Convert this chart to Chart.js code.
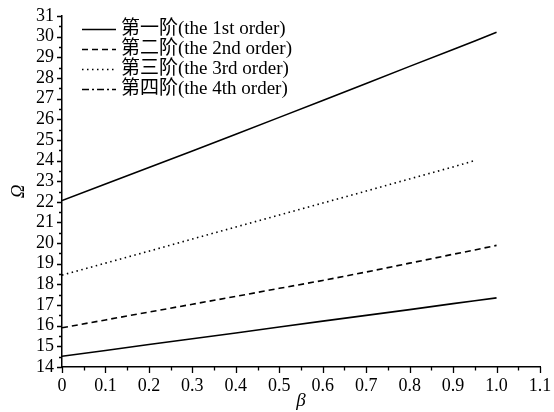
<!DOCTYPE html>
<html>
<head>
<meta charset="utf-8">
<script src="https://cdn.jsdelivr.net/npm/chart.js@4.4.0/dist/chart.umd.min.js"></script>
<style>
  html, body { margin: 0; padding: 0; background: #fff; }
  #wrap { width: 554px; height: 412px; }
</style>
</head>
<body>
<div id="wrap"><canvas id="omega-chart"></canvas></div>
<script>
var canva = document.getElementById('omega-chart');

// data
const betas = [0, 0.1, 0.2, 0.3, 0.4, 0.5, 0.6, 0.7, 0.8, 0.9, 0.95, 1.0];
const order1 = [14.52, 14.80, 15.09, 15.37, 15.65, 15.94, 16.22, 16.50, 16.78, 17.07, 17.21, 17.35];
const order2 = [15.90, 16.28, 16.66, 17.04, 17.42, 17.81, 18.19, 18.60, 19.03, 19.46, 19.67, 19.89];
const order3 = [18.45, 19.03, 19.61, 20.20, 20.78, 21.36, 21.94, 22.52, 23.11, 23.69, 24.00, null];
const order4 = [22.06, 22.86, 23.66, 24.46, 25.27, 26.09, 26.91, 27.73, 28.56, 29.38, 29.79, 30.21];
const labels = ['第一阶(the 1st order)', '第二阶(the 2nd order)', '第三阶(the 3rd order)', '第四阶(the 4th order)'];
const dashes = [[], [6, 4], [1.5, 3.5], []];
const legend_dashes = [[], [6, 4], [1.5, 3.5], [7, 3, 2, 3]];

const font_family = '"Liberation Serif", "Noto Sans CJK SC", serif';

function toPoints(ys){
    var pts = [];
    for(var i=0; i<betas.length; i++){
        if(ys[i] !== null) pts.push({x: betas[i], y: ys[i]});
    }
    return pts;
}

const all_series = [order1, order2, order3, order4];
var datasets = [];
for(var i=0; i<all_series.length; i++){
    datasets.push({
        label: labels[i],
        data: toPoints(all_series[i]),
        borderColor: '#000',
        borderWidth: 1.6,
        borderDash: dashes[i],
        pointRadius: 0,
        fill: false,
        tension: 0
    });
}

// minor/major ticks drawn outward, plus legend in the top left corner
const extras = {
    id: 'extras',
    afterDraw(chart){
        const ctx = chart.ctx;
        const xs = chart.scales.x, ys = chart.scales.y;
        const area = chart.chartArea;
        ctx.save();
        ctx.strokeStyle = '#000';
        ctx.lineWidth = 1.3;
        ctx.beginPath();
        for(var k=0; k<=22; k++){
            var px = Math.round(xs.getPixelForValue(k*0.05)) + 0.5;
            var len = (k % 2 === 0) ? 6 : 3.5;
            ctx.moveTo(px, area.bottom);
            ctx.lineTo(px, area.bottom + len);
        }
        for(var k=0; k<=34; k++){
            var py = Math.round(ys.getPixelForValue(14 + k*0.5)) + 0.5;
            var len = (k % 2 === 0) ? 5 : 3;
            ctx.moveTo(area.left, py);
            ctx.lineTo(area.left - len, py);
        }
        ctx.stroke();

        // legend
        ctx.font = '19px ' + font_family;
        ctx.fillStyle = '#000';
        ctx.textBaseline = 'middle';
        for(var i=0; i<labels.length; i++){
            var y = 29.5 + i*20;
            ctx.beginPath();
            ctx.lineWidth = 1.6;
            ctx.setLineDash(legend_dashes[i]);
            ctx.moveTo(82, y);
            ctx.lineTo(116, y);
            ctx.stroke();
            ctx.setLineDash([]);
            ctx.fillText(labels[i], 121, y);
        }
        ctx.restore();
    }
};

const config = {
    type: 'line',
    data: { datasets: datasets },
    options: {
        responsive: true,
        maintainAspectRatio: false,
        animation: false,
        layout: { padding: { top: 16, right: 14, left: 0, bottom: 0 } },
        plugins: { legend: { display: false }, tooltip: { enabled: false } },
        scales: {
            x: {
                type: 'linear',
                min: 0, max: 1.1,
                grid: { display: false, drawTicks: false },
                border: { color: '#000', width: 1.5 },
                ticks: {
                    stepSize: 0.1,
                    autoSkip: false,
                    color: '#000',
                    padding: 8,
                    maxRotation: 0,
                    font: { family: font_family, size: 18 },
                    callback: v => v === 0 ? '0' : v.toFixed(1)
                },
                title: {
                    display: true, text: 'β', color: '#000',
                    font: { family: font_family, size: 19, style: 'italic' },
                    padding: { top: 0, bottom: 0 }
                },
                afterFit: s => { s.height = 45; s.paddingLeft = 0; s.paddingRight = 0; }
            },
            y: {
                min: 14, max: 31,
                grid: { display: false, drawTicks: false },
                border: { color: '#000', width: 1.5 },
                ticks: {
                    stepSize: 1,
                    autoSkip: false,
                    color: '#000',
                    padding: 8,
                    font: { family: font_family, size: 18 }
                },
                title: {
                    display: true, text: 'Ω', color: '#000',
                    font: { family: font_family, size: 19, style: 'italic' },
                    padding: { top: 8, bottom: 0 }
                },
                afterFit: s => { s.width = 62; s.paddingTop = 0; s.paddingBottom = 0; }
            }
        }
    },
    plugins: [extras]
};

const omega_chart = new Chart(canva, config);
</script>
</body>
</html>
